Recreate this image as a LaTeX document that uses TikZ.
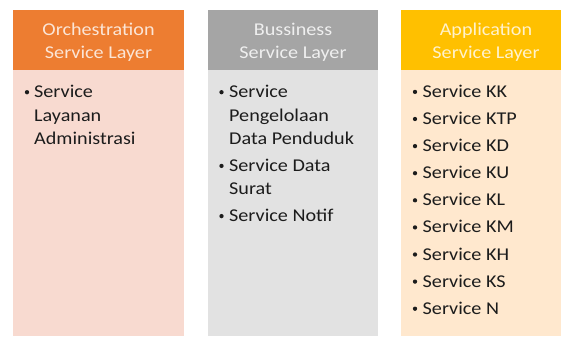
\documentclass[tikz,border=0pt]{standalone}
\usepackage{fontspec}
\setmainfont[FakeStretch=1.12]{Carlito}
\definecolor{orangeH}{HTML}{ED7D31}
\definecolor{orangeB}{HTML}{F8DAD0}
\definecolor{orangeT}{HTML}{FBE5D6}
\definecolor{greyH}{HTML}{A5A5A5}
\definecolor{greyB}{HTML}{E2E2E2}
\definecolor{greyT}{HTML}{EFEFEF}
\definecolor{yellowH}{HTML}{FFC000}
\definecolor{yellowB}{HTML}{FFE8CE}
\definecolor{yellowT}{HTML}{FFF2CC}
\definecolor{bodytext}{HTML}{1C1C1C}
\tikzset{
  colbox/.style={draw=none, inner sep=0pt, outer sep=0pt, anchor=north west},
  htext/.style={inner sep=0pt, anchor=base, font=\fontsize{18}{23.5}\selectfont},
  btext/.style={inner sep=0pt, anchor=base west, text=bodytext, font=\fontsize{18}{23.5}\selectfont},
  bul/.style={circle, fill=bodytext, inner sep=0pt, minimum size=4.3pt},
}
\begin{document}
\begin{tikzpicture}[x=1pt,y=-1pt]
\useasboundingbox (0,0) rectangle (561,338);
% columns
\node[colbox, fill=orangeH, minimum width=171pt, minimum height=60pt] (oh) at (13,10) {};
\node[colbox, fill=orangeB, minimum width=171pt, minimum height=266pt] (ob) at (13,70) {};
\node[colbox, fill=greyH, minimum width=170pt, minimum height=60pt] (gh) at (208,10) {};
\node[colbox, fill=greyB, minimum width=170pt, minimum height=266pt] (gb) at (208,70) {};
\node[colbox, fill=yellowH, minimum width=171pt, minimum height=60pt] (yh) at (401,10) {};
\node[colbox, fill=yellowB, minimum width=171pt, minimum height=266pt] (yb) at (401,70) {};
% headers
\node[htext, text=orangeT] (oh1) at (98.5,35.7) {Orchestration};
\node[htext, text=orangeT] (oh2) at (98.5,58.5) {Service Layer};
\node[htext, text=greyT] (gh1) at (293,35.7) {Bussiness};
\node[htext, text=greyT] (gh2) at (293,58.5) {Service Layer};
\node[htext, text=yellowT] (yh1) at (486,35.7) {Application};
\node[htext, text=yellowT] (yh2) at (486,58.5) {Service Layer};
% orange body
\node[bul] (ob1) at (27,92.2) {};
\node[btext] (ot1) at (34,97.7) {Service};
\node[btext] (ot2) at (34,121.2) {Layanan};
\node[btext] (ot3) at (34,144.7) {Administrasi};
% grey body
\node[bul] (gb1) at (221.5,92.2) {};
\node[btext] (gt1) at (229,97.7) {Service};
\node[btext] (gt2) at (229,121.2) {Pengelolaan};
\node[btext] (gt3) at (229,144.7) {Data Penduduk};
\node[bul] (gb2) at (221.5,165.9) {};
\node[btext] (gt4) at (229,171.4) {Service Data};
\node[btext] (gt5) at (229,194.9) {Surat};
\node[bul] (gb3) at (221.5,216.1) {};
\node[btext] (gt6) at (229,221.6) {Service Notif};
% yellow body
\foreach \t [count=\i from 0] in {KK,KTP,KD,KU,KL,KM,KH,KS,N}{
  \node[bul] (yb\i) at (415,{91.9+27.1*\i}) {};
  \node[btext] (yt\i) at (422.5,{97.4+27.1*\i}) {Service \t};
}
\end{tikzpicture}
\end{document}
